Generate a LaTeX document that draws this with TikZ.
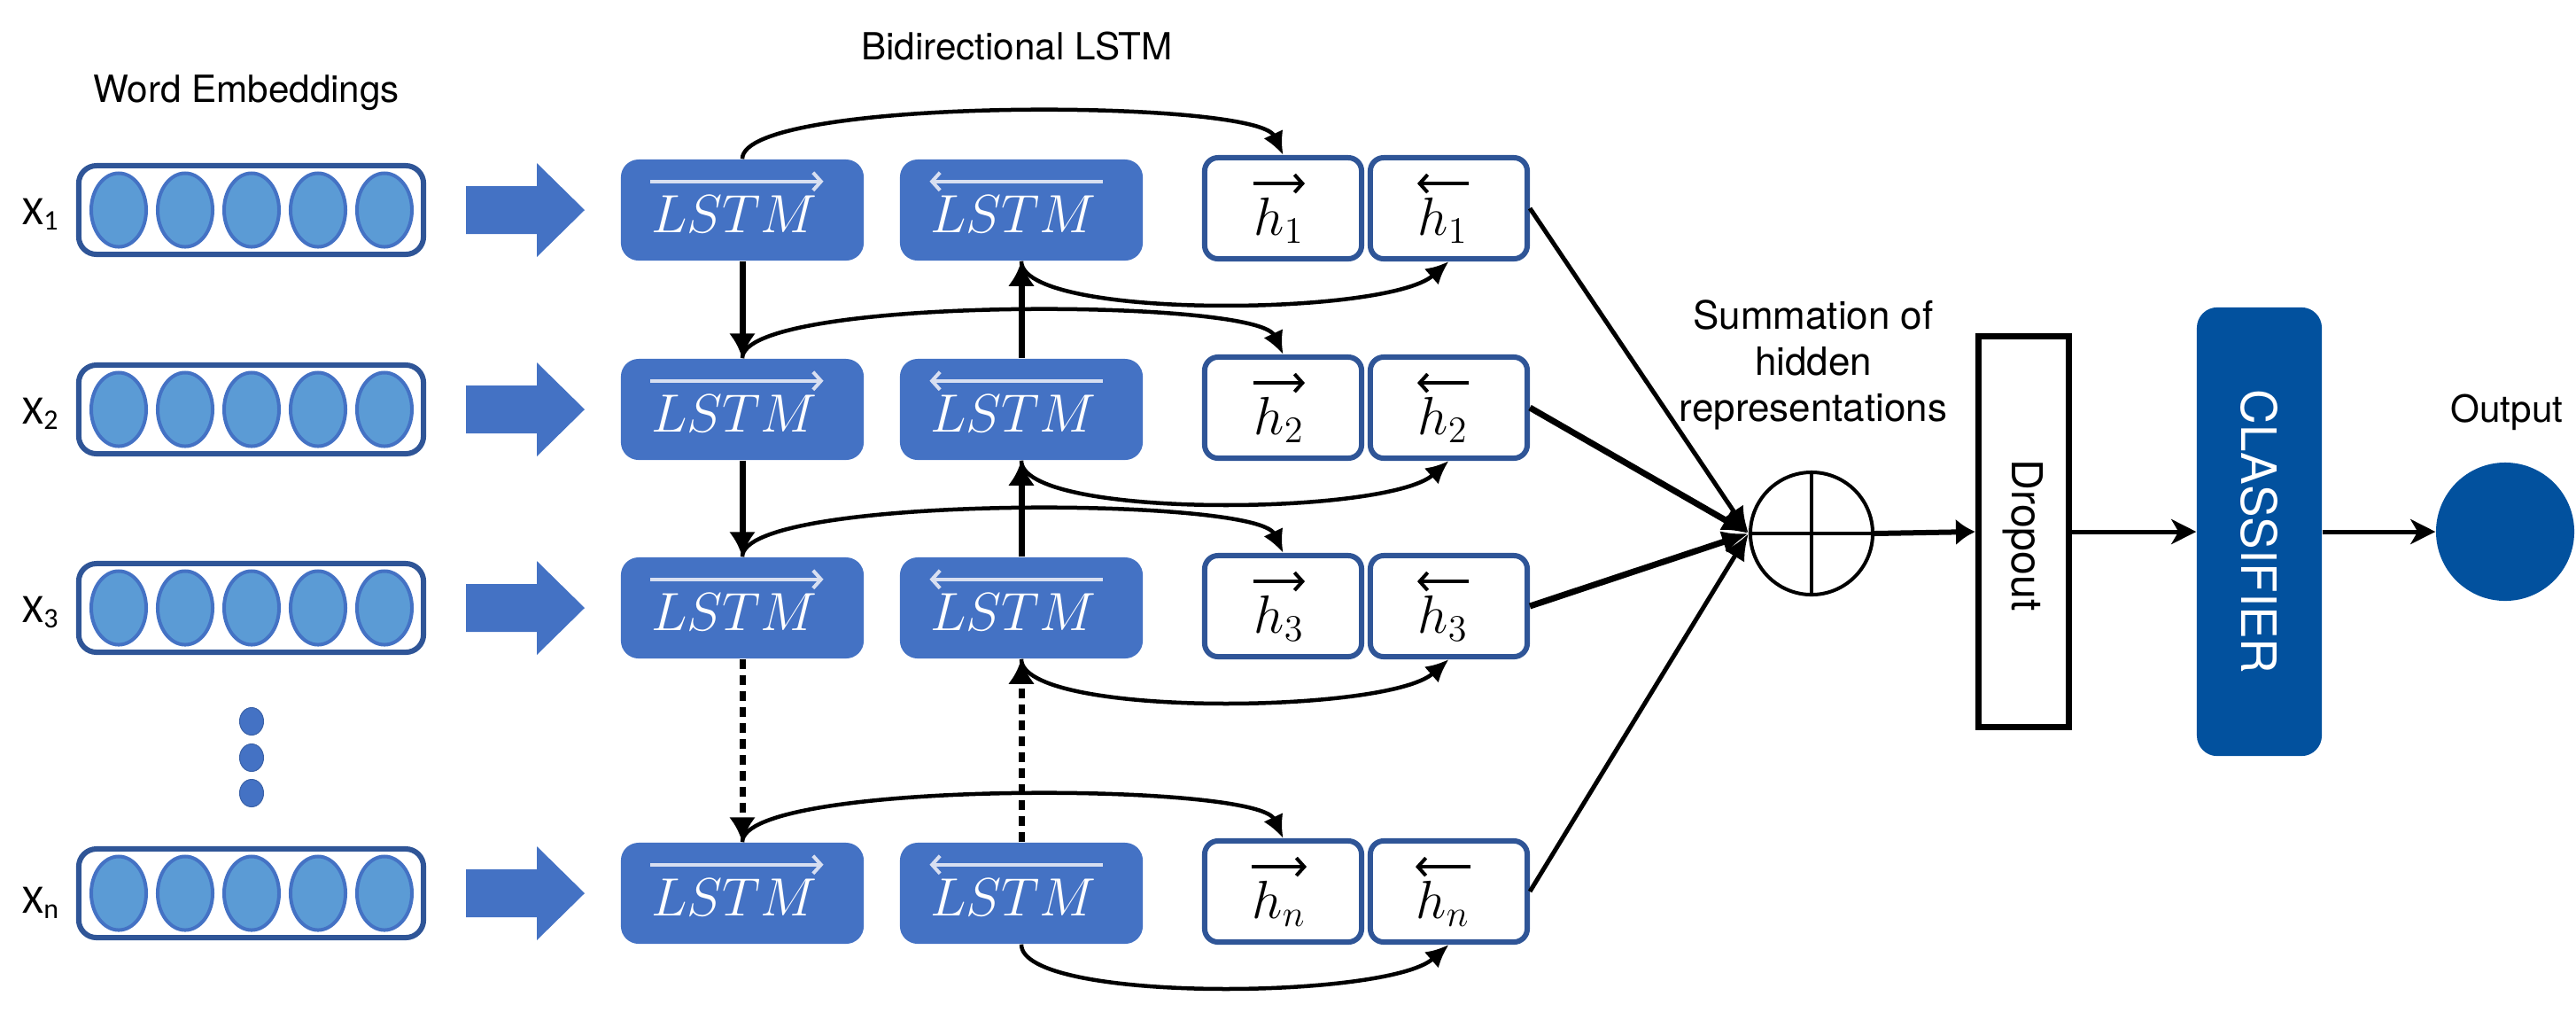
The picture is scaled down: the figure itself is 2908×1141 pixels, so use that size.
\documentclass[tikz,border=0pt]{standalone}
\usepackage{fontspec}
\setmainfont{TeX Gyre Heros}
\newfontfamily\calib{Carlito}
\usetikzlibrary{arrows.meta,shapes.geometric}
\definecolor{lstmblue}{RGB}{68,114,196}
\definecolor{darkblue}{RGB}{47,85,151}
\definecolor{cellblue}{RGB}{91,155,213}
\definecolor{clsblue}{RGB}{2,81,158}
\definecolor{paleblue}{RGB}{216,223,241}
\begin{document}
\begin{tikzpicture}[x=0.01cm,y=-0.01cm,
  lstm/.style={rectangle,rounded corners=0.2cm,fill=lstmblue,minimum width=2.74cm,minimum height=1.14cm,inner sep=0pt},
  lstmtxt/.style={inner sep=0pt,anchor=base,text=white,font=\fontsize{16.5pt}{18pt}\selectfont},
  hbox/.style={rectangle,rounded corners=0.15cm,draw=darkblue,line width=0.06cm,fill=white,minimum width=1.77cm,minimum height=1.14cm,inner sep=0pt},
  htxt/.style={inner sep=0pt,anchor=base,font=\fontsize{17pt}{19pt}\selectfont},
  overarr/.style={line width=0.04cm,-{Straight Barb[length=0.09cm,width=0.2cm]}},
  wbox/.style={rectangle,rounded corners=0.2cm,draw=darkblue,line width=0.06cm,minimum width=3.89cm,minimum height=1.0cm,inner sep=0pt},
  cell/.style={ellipse,draw=lstmblue,fill=cellblue,line width=0.04cm,minimum width=0.62cm,minimum height=0.83cm,inner sep=0pt},
  dotn/.style={ellipse,fill=lstmblue,draw=lstmblue!85!black,line width=0.01cm,minimum width=0.27cm,minimum height=0.31cm,inner sep=0pt},
  xlab/.style={font=\calib\fontsize{13pt}{15pt}\selectfont,inner sep=0pt,anchor=base west},
  lbl/.style={font=\fontsize{12pt}{14pt}\selectfont,inner sep=0pt,anchor=base},
  conn/.style={line width=0.045cm,-{Latex[length=0.26cm,width=0.24cm]}},
  vconn/.style={line width=0.07cm,-{Latex[length=0.28cm,width=0.3cm]}},
  sconn/.style={-{Latex[length=0.3cm,width=0.26cm]}},
  cconn/.style={line width=0.05cm,-{Stealth[length=0.28cm,width=0.28cm,inset=0.08cm]}}
]
\useasboundingbox (0,0) rectangle (2908,1141);

% titles
\node[lbl] (tw) at (278,115) {Word Embeddings};
\node[lbl] (tb) at (1148,67) {Bidirectional LSTM};

% rows
\foreach \r/\y/\s in {1/237/1,2/462/2,3/686/3,n/1008/n}{
  \node[wbox] (w\r) at (283.5,\y) {};
  \foreach \c/\cx in {a/134,b/209,c/284,d/359,e/434}{
    \node[cell] (e\r\c) at (\cx,\y) {};
  }
  \fill[lstmblue] (526,\y-27) -- (606,\y-27) -- (606,\y-53) -- (660,\y) -- (606,\y+53) -- (606,\y+27) -- (526,\y+27) -- cycle;
  % forward / backward LSTM cells
  \node[lstm] (lf\r) at (838,\y) {};
  \node[lstmtxt] (lft\r) at (829,\y+25) {$LSTM$};
  \draw[overarr,paleblue] ([yshift=0.15cm]lft\r.north west) -- ([xshift=0.06cm,yshift=0.15cm]lft\r.north east);
  \node[lstm] (lb\r) at (1153,\y) {};
  \node[lstmtxt] (lbt\r) at (1144,\y+25) {$LSTM$};
  \draw[overarr,paleblue] ([xshift=0.06cm,yshift=0.15cm]lbt\r.north east) -- ([yshift=0.15cm]lbt\r.north west);
  % hidden states
  \node[hbox] (hf\r) at (1448.5,\y-2) {};
  \node[htxt] (hft\r) at (1444,\y+28) {$h_{\s}$};
  \draw[overarr] ([yshift=0.15cm]hft\r.north west) -- ([yshift=0.15cm]hft\r.north east);
  \node[hbox] (hb\r) at (1635.5,\y-2) {};
  \node[htxt] (hbt\r) at (1629,\y+28) {$h_{\s}$};
  \draw[overarr] ([yshift=0.15cm]hbt\r.north east) -- ([yshift=0.15cm]hbt\r.north west);
  % outputs of the cells
  \draw[conn] (lf\r.north) .. controls +(0,-70) and +(-30,-64) .. (hf\r.north);
  \draw[conn] (lb\r.south) .. controls +(0,66) and +(-70,62) .. (hb\r.south);
}

\node[xlab] (x1) at (25,253) {X\textsubscript{1}};
\node[xlab] (x2) at (25,478) {X\textsubscript{2}};
\node[xlab] (x3) at (25,702) {X\textsubscript{3}};
\node[xlab] (xn) at (25,1030) {X\textsubscript{n}};

% dots
\node[dotn] (d1) at (284,814) {};
\node[dotn] (d2) at (284,855) {};
\node[dotn] (d3) at (284,895) {};

% vertical recurrences
\draw[vconn] (lf1.south) -- (lf2.north);
\draw[vconn] (lf2.south) -- (lf3.north);
\draw[vconn,dash pattern=on 0.11cm off 0.07cm] (lf3.south) -- (lfn.north);
\draw[vconn] (lb2.north) -- (lb1.south);
\draw[vconn] (lb3.north) -- (lb2.south);
\draw[vconn,dash pattern=on 0.11cm off 0.07cm] (lbn.north) -- (lb3.south);

% summation
\node[circle,draw,line width=0.04cm,minimum size=1.38cm,inner sep=0pt] (sum) at (2045,602) {};
\draw[line width=0.04cm] (sum.north) -- (sum.south);
\draw[line width=0.04cm] (sum.west) -- (sum.east);
\node[lbl,font=\fontsize{12.5pt}{14pt}\selectfont] (s1) at (2047,371) {Summation of};
\node[lbl,font=\fontsize{12.5pt}{14pt}\selectfont] (s2) at (2047,423) {hidden};
\node[lbl,font=\fontsize{12.5pt}{14pt}\selectfont] (s3) at (2047,475) {representations};

\draw[sconn,line width=0.05cm] (hb1.east) -- (sum.west);
\draw[sconn,line width=0.07cm] (hb2.east) -- (sum.west);
\draw[sconn,line width=0.07cm] (hb3.east) -- (sum.west);
\draw[sconn,line width=0.05cm] (hbn.east) -- (sum.west);

% dropout
\node[draw,line width=0.07cm,minimum width=1.02cm,minimum height=4.4cm,inner sep=0pt] (drop) at (2284.5,600) {};
\node[rotate=-90,font=\fontsize{13.7pt}{15pt}\selectfont,inner sep=0pt] (dropt) at (2284,604) {Dropout};
\draw[line width=0.06cm,-{Latex[length=0.22cm,width=0.3cm]}] (sum.east) -- (drop.west);

% classifier
\node[fill=clsblue,rounded corners=0.23cm,minimum width=1.41cm,minimum height=5.06cm,inner sep=0pt] (cls) at (2550.5,600) {};
\node[rotate=-90,text=white,font=\fontsize{15.6pt}{17pt}\selectfont,inner sep=0pt] (clst) at (2550,600) {CLASSIFIER};
\draw[cconn] (drop.east) -- (cls.west);

% output
\node[circle,fill=clsblue,minimum size=1.56cm,inner sep=0pt] (out) at (2828,600) {};
\node[lbl] (outt) at (2830,476) {Output};
\draw[cconn] (cls.east) -- (out.west);
\end{tikzpicture}
\end{document}
